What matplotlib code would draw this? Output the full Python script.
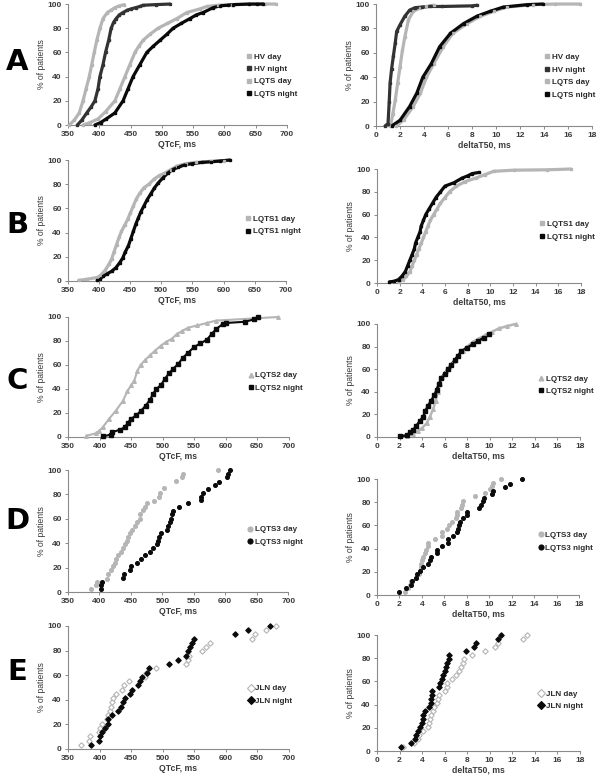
import matplotlib
matplotlib.use("Agg")
import matplotlib.pyplot as plt

plt.rcParams['font.family'] = ['Liberation Sans', 'DejaVu Sans']

LIGHT = "#b5b5b5"
DARK = "#333333"
BLACK = "#0a0a0a"

# ---------------- A : QTcF ----------------
a_hv_day_x = [352, 360, 368, 374, 379, 384, 388, 392, 396, 401, 406, 413, 419, 425, 432, 440]
a_hv_day_y = [0, 4, 10, 20, 30, 40, 50, 60, 70, 80, 88, 93, 95, 97, 98.5, 99.5]
a_hv_night_x = [365, 372, 380, 387, 393, 398, 401, 406, 410, 415, 419, 423, 427, 432, 438, 445, 451, 458, 465, 470, 490, 513]
a_hv_night_y = [0, 4, 10, 15, 20, 30, 40, 50, 60, 70, 80, 85, 88, 91, 93, 95, 96, 97, 98, 99, 99.5, 100]
a_lqts_day_x = [374, 385, 398, 410, 425, 433, 441, 449, 457, 463, 470, 481, 494, 509, 524, 540, 561, 572, 590, 612, 665, 682]
a_lqts_day_y = [0, 2, 5, 11, 20, 30, 40, 50, 60, 65, 70, 75, 80, 84, 88, 93, 96, 98, 99, 99.5, 100, 100]
a_lqts_night_x = [393, 402, 411, 425, 438, 446, 454, 465, 476, 486, 497, 508, 518, 531, 545, 555, 566, 582, 593, 605, 614, 640, 652, 662]
a_lqts_night_y = [0, 2, 5, 10, 20, 30, 40, 50, 60, 65, 70, 75, 80, 84, 88, 91, 93, 97, 98.5, 99, 99.5, 100, 100, 100]

# ---------------- A : deltaT50 ----------------
a2_hv_day_x = [1.2, 1.4, 1.6, 1.8, 2.0, 2.2, 2.4, 2.7, 3.1, 3.7, 4.2, 4.8]
a2_hv_day_y = [0, 10, 21, 35, 48.6, 62, 73, 87, 94, 97, 98, 99]
a2_hv_night_x = [0.75, 1.0, 1.1, 1.17, 1.3, 1.44, 1.6, 1.72, 2.0, 2.4, 2.8, 3.25, 3.8, 4.5, 5.5, 8.0, 8.4]
a2_hv_night_y = [0, 2, 20, 35, 47, 57, 68, 77.5, 83, 90, 95, 97, 97.5, 98, 98, 98.5, 99]
a2_lqts_day_x = [1.7, 2.3, 3.1, 3.7, 4.2, 4.8, 5.6, 6.4, 7.6, 8.7, 9.8, 10.9, 13.1, 14.9, 17.0]
a2_lqts_day_y = [0, 5, 16, 27, 40, 51, 65, 76, 84, 90, 94, 97.5, 99.5, 100, 100]
a2_lqts_night_x = [1.3, 2.0, 2.8, 3.4, 3.9, 4.6, 5.3, 6.2, 7.3, 8.4, 9.5, 10.6, 12.6, 13.9]
a2_lqts_night_y = [0, 4.7, 16, 27, 40, 51, 65, 76, 84, 90, 94, 97.5, 99.5, 100]

# ---------------- B : LQTS1 ----------------
b_day_x = [367, 381, 398, 403, 410, 416, 420, 424, 428, 432, 436, 441, 446, 450, 455, 460, 466, 472, 480, 488, 496, 505, 515, 525, 540, 555, 580, 600]
b_day_y = [0.5, 1.5, 3, 5, 9, 14, 18, 24, 30, 36, 41, 46, 51, 56, 62, 68, 73, 77, 80, 84, 87, 89, 92, 95, 97, 98, 99, 99.5]
b_night_x = [397, 402, 407, 413, 420, 427, 433, 438, 442, 447, 451, 455, 459, 463, 467, 472, 477, 483, 489, 495, 502, 510, 518, 527, 538, 550, 565, 580, 595, 610]
b_night_y = [0.5, 2, 4, 6, 8, 11, 15, 19, 24, 29, 35, 41, 47, 52, 57, 62, 67, 72, 77, 81, 85, 89, 92, 94, 96, 97, 98, 98.5, 99.2, 100]
b2_day_x = [1.9, 2.3, 2.6, 2.9, 3.1, 3.3, 3.5, 3.7, 3.9, 4.1, 4.3, 4.5, 4.7, 5.0, 5.3, 5.6, 6.0, 6.4, 7.0, 7.8, 8.7, 9.5, 10.3, 12.1, 15.0, 17.1]
b2_day_y = [1, 3, 6, 10, 15, 20, 25, 30, 35, 40, 45, 50, 55, 60, 65, 70, 75, 80, 85, 89, 92, 95, 98, 99, 99.3, 100]
b2_night_x = [1.1, 1.5, 1.9, 2.2, 2.5, 2.7, 2.9, 3.1, 3.3, 3.4, 3.6, 3.8, 3.9, 4.1, 4.3, 4.6, 4.9, 5.2, 5.6, 6.0, 6.8, 7.5, 8.0, 8.4, 9.0]
b2_night_y = [1, 1.5, 3, 6, 10, 15, 20, 25, 30, 35, 40, 45, 50, 55, 60, 65, 70, 75, 80, 85, 88, 92, 94, 96, 97]

# ---------------- C : LQTS2 ----------------
c_day_x = [379, 394, 399, 405, 415, 426, 437, 444, 450, 455, 460, 465, 472, 480, 488, 497, 505, 515, 523, 530, 540, 555, 570, 585, 683]
c_day_y = [1, 3, 5, 8, 15, 22, 30, 38, 43, 47, 55, 60, 64, 68, 72, 76, 79, 82, 86, 88, 91, 93, 95, 97, 100]
c_night_x = [406, 418, 420, 432, 440, 445, 450, 458, 466, 473, 480, 485, 490, 497, 503, 510, 517, 525, 532, 540, 550, 560, 570, 578, 585, 595, 600, 630, 645, 652]
c_night_y = [0.5, 2, 4, 6, 8, 12, 15, 18, 22, 26, 31, 36, 40, 43, 48, 53, 57, 61, 66, 70, 75, 78, 81, 86, 90, 94, 95, 96, 98, 100]
c2_day_x = [2.7, 3.2, 3.6, 4.0, 4.4, 4.7, 5.0, 5.2, 5.4, 5.6, 5.8, 6.1, 6.4, 6.8, 7.2, 7.6, 8.0, 8.5, 9.0, 9.6, 10.2, 10.8, 11.5, 12.3]
c2_day_y = [1, 3, 5, 8, 12, 18, 25, 32, 40, 47, 53, 58, 62, 67, 72, 76, 80, 84, 87, 90, 93, 96, 98, 100]
c2_night_x = [2.0, 2.7, 2.9, 3.2, 3.5, 3.8, 4.1, 4.3, 4.5, 4.8, 5.1, 5.3, 5.5, 5.7, 6.0, 6.3, 6.6, 6.9, 7.2, 7.5, 8.0, 8.5, 9.0, 9.5, 9.9]
c2_night_y = [0.5, 1.5, 4, 6, 10, 14, 18, 23, 27, 32, 37, 42, 47, 52, 56, 60, 64, 68, 72, 76, 79, 82, 85, 88, 91]

# ---------------- D : LQTS3 ----------------
d_day_x = [387, 394, 396, 412, 414, 418, 421, 424, 427, 430, 434, 437, 441, 444, 446, 449, 451, 456, 460, 464, 464, 470, 473, 475, 487, 494, 496, 503, 521, 531, 533, 588]
d_day_y = [2.7, 5.7, 8.5, 11, 15, 18, 21, 24, 27, 30, 33, 36, 39, 42, 45, 48, 51, 54, 57, 60, 64, 67, 70, 73, 75, 78, 81, 85, 91, 94, 97, 100]
d_night_x = [402, 403, 404, 437, 439, 448, 450, 460, 466, 473, 481, 485, 491, 493, 495, 498, 508, 509, 512, 513, 516, 517, 526, 540, 561, 562, 564, 573, 583, 590, 602, 604, 608]
d_night_y = [2.7, 6, 8.5, 11.5, 15, 18, 21, 24, 27, 30, 33, 36, 39, 42, 45, 48.6, 51, 54, 57.6, 60, 63.6, 66.7, 70, 72.7, 75.4, 78, 81, 84.7, 87.7, 90.4, 94, 96.7, 100]
d2_day_x = [2.5, 2.8, 2.9, 3.0, 3.5, 3.7, 3.8, 3.9, 3.9, 4.0, 4.1, 4.3, 4.4, 4.5, 4.5, 5.2, 5.8, 5.8, 6.2, 6.4, 6.7, 7.0, 7.1, 7.1, 7.5, 7.6, 7.7, 8.7, 9.6, 10.1, 10.2, 10.3, 11.0]
d2_day_y = [3, 6, 9, 12, 15, 18, 21, 24, 27, 30, 33, 36, 39, 42, 45, 48, 51, 54, 57, 60, 63, 66, 69, 72, 75, 78, 81, 85, 88, 91, 94, 97, 100]
d2_night_x = [2.0, 2.6, 3.0, 3.1, 3.5, 3.6, 3.8, 4.1, 4.5, 4.7, 4.8, 5.3, 5.3, 5.8, 6.3, 6.3, 6.8, 7.1, 7.2, 7.3, 7.4, 7.7, 8.0, 8.0, 9.1, 9.3, 9.4, 9.5, 10.2, 10.3, 11.4, 11.8, 12.9]
d2_night_y = [3, 6, 9, 12, 15, 18, 21, 24, 27, 30, 33, 36, 39, 42, 45, 48, 51, 54, 57, 60, 63, 66, 69, 72, 75, 78, 81, 84, 87, 90, 93, 96, 100]

# ---------------- E : JLN ----------------
e_pct = [3.4, 6.9, 10.3, 13.8, 17.2, 20.7, 24.1, 27.6, 31.0, 34.5, 37.9, 41.4, 44.8, 48.3, 51.7,
         55.2, 58.6, 62.1, 65.5, 69.0, 72.4, 75.9, 79.3, 82.8, 86.2, 89.7, 93.1, 96.6, 100]
e_day_x = [371, 384, 385, 399, 401, 404, 412, 414, 417, 418, 420, 421, 426, 436, 439, 446, 472, 474, 490, 537, 540, 542, 563, 569, 575, 641, 647, 664, 679]
e_night_x = [386, 399, 401, 404, 409, 413, 414, 420, 430, 434, 437, 441, 449, 452, 461, 464, 468, 476, 479, 510, 525, 537, 540, 544, 546, 549, 614, 636, 671]
e2_day_x = [2.3, 3.3, 3.6, 3.7, 4.1, 4.5, 4.6, 4.7, 4.8, 5.0, 5.1, 5.3, 5.4, 5.5, 6.0, 6.2, 6.2, 6.7, 7.0, 7.3, 7.5, 7.6, 7.7, 8.4, 9.6, 10.5, 10.7, 13.0, 13.3]
e2_night_x = [2.1, 3.0, 3.4, 3.5, 3.6, 3.8, 4.0, 4.1, 4.1, 4.3, 4.6, 4.8, 4.8, 4.9, 4.9, 5.5, 5.6, 5.8, 5.9, 6.0, 6.1, 6.2, 6.4, 6.4, 7.9, 8.6, 8.8, 10.7, 11.0]

fig = plt.figure(figsize=(6, 7.76), dpi=100)


def pannello(rect, xlim, xticks, xlabel):
    ax = fig.add_axes(rect)
    ax.set_xlim(*xlim)
    ax.set_ylim(0, 100)
    ax.set_xticks(xticks)
    ax.set_yticks(range(0, 101, 20))
    for s in ["top", "right"]:
        ax.spines[s].set_visible(False)
    for s in ["left", "bottom"]:
        ax.spines[s].set_color("#8a8a8a")
        ax.spines[s].set_linewidth(0.8)
    ax.tick_params(length=2.5, width=0.7, color="#8a8a8a", labelsize=6, labelcolor="#3a3a3a", pad=2)
    for lab in ax.get_xticklabels() + ax.get_yticklabels():
        lab.set_fontweight("bold")
    ax.set_xlabel(xlabel, fontsize=6.2, fontweight="bold", color="#3a3a3a", labelpad=1)
    ax.set_ylabel("% of patients", fontsize=6.2, color="#3a3a3a", labelpad=1)
    return ax


def curva(ax, x, y, col, lab, lw=2.3, ms=1.8, mk="s"):
    # curve fitte: linea spessa + piccoli punti
    ax.plot(x, y, "-", color=col, lw=lw, solid_capstyle="round", clip_on=False, zorder=2)
    ax.plot(x, y, linestyle="none", marker=mk, color=col, ms=ms, clip_on=False, label=lab, zorder=3)


def punti(ax, x, y, col, lab, mk="D", mfc=None, ms=3.0):
    ax.plot(x, y, linestyle="none", marker=mk, color=col, ms=ms, mec=col,
            mfc=col if mfc is None else mfc, mew=0.8, clip_on=False, label=lab, zorder=3)


def legenda(ax, x0, y0):
    ax.legend(loc="center left", bbox_to_anchor=(x0, y0), frameon=False,
              handlelength=0.5, handletextpad=0.3, labelspacing=0.6, borderpad=0,
              markerscale=1.3, labelcolor="#2a2a2a", prop={"weight": "bold", "size": 5.8})


qt_ticks = list(range(350, 701, 50))
dt_ticks = list(range(0, 19, 2))

# A
ax = pannello([0.1133, 0.8389, 0.365, 0.1559], (350, 700), qt_ticks, "QTcF, ms")
curva(ax, a_hv_day_x, a_hv_day_y, LIGHT, "HV day")
curva(ax, a_hv_night_x, a_hv_night_y, DARK, "HV night")
curva(ax, a_lqts_day_x, a_lqts_day_y, LIGHT, "LQTS day")
curva(ax, a_lqts_night_x, a_lqts_night_y, BLACK, "LQTS night")
legenda(ax, 0.80, 0.41)

ax = pannello([0.6267, 0.8376, 0.36, 0.1572], (0, 18), dt_ticks, "deltaT50, ms")
curva(ax, a2_hv_day_x, a2_hv_day_y, LIGHT, "HV day")
curva(ax, a2_hv_night_x, a2_hv_night_y, DARK, "HV night")
curva(ax, a2_lqts_day_x, a2_lqts_day_y, LIGHT, "LQTS day")
curva(ax, a2_lqts_night_x, a2_lqts_night_y, BLACK, "LQTS night")
legenda(ax, 0.765, 0.41)

# B
ax = pannello([0.1133, 0.6379, 0.363, 0.1559], (350, 700), qt_ticks, "QTcF, ms")
curva(ax, b_day_x, b_day_y, LIGHT, "LQTS1 day")
curva(ax, b_night_x, b_night_y, BLACK, "LQTS1 night")
legenda(ax, 0.80, 0.46)

ax = pannello([0.6283, 0.6353, 0.34, 0.1469], (0, 18), dt_ticks, "deltaT50, ms")
curva(ax, b2_day_x, b2_day_y, LIGHT, "LQTS1 day")
curva(ax, b2_night_x, b2_night_y, BLACK, "LQTS1 night")
legenda(ax, 0.78, 0.46)

# C
ax = pannello([0.1133, 0.4369, 0.368, 0.1546], (350, 700), qt_ticks, "QTcF, ms")
curva(ax, c_day_x, c_day_y, LIGHT, "LQTS2 day", lw=1.5, mk="^", ms=2.6)
curva(ax, c_night_x, c_night_y, BLACK, "LQTS2 night", lw=1.5, ms=2.2)
legenda(ax, 0.80, 0.46)

ax = pannello([0.6283, 0.4369, 0.338, 0.1456], (0, 18), dt_ticks, "deltaT50, ms")
curva(ax, c2_day_x, c2_day_y, LIGHT, "LQTS2 day", lw=1.8, mk="^", ms=2.6)
curva(ax, c2_night_x, c2_night_y, BLACK, "LQTS2 night", lw=1.8, ms=2.2)
legenda(ax, 0.78, 0.46)

# D
ax = pannello([0.1133, 0.2371, 0.367, 0.1572], (350, 700), qt_ticks, "QTcF, ms")
punti(ax, d_day_x, d_day_y, LIGHT, "LQTS3 day", mk="o", ms=2.8)
punti(ax, d_night_x, d_night_y, BLACK, "LQTS3 night", mk="o", ms=2.8)
legenda(ax, 0.80, 0.46)

ax = pannello([0.6283, 0.2332, 0.337, 0.1495], (0, 18), dt_ticks, "deltaT50, ms")
punti(ax, d2_day_x, d2_day_y, LIGHT, "LQTS3 day", mk="o", ms=2.8)
punti(ax, d2_night_x, d2_night_y, BLACK, "LQTS3 night", mk="o", ms=2.8)
legenda(ax, 0.78, 0.46)

# E
ax = pannello([0.1133, 0.0348, 0.368, 0.1585], (350, 700), qt_ticks, "QTcF, ms")
punti(ax, e_day_x, e_pct, LIGHT, "JLN day", mk="D", mfc="white", ms=2.8)
punti(ax, e_night_x, e_pct, BLACK, "JLN night", mk="D", ms=2.8)
legenda(ax, 0.80, 0.44)

ax = pannello([0.6283, 0.0322, 0.338, 0.1495], (0, 18), dt_ticks, "deltaT50, ms")
punti(ax, e2_day_x, e_pct, LIGHT, "JLN day", mk="D", mfc="white", ms=2.8)
punti(ax, e2_night_x, e_pct, BLACK, "JLN night", mk="D", ms=2.8)
legenda(ax, 0.78, 0.44)

# lettere dei pannelli
for lettera, yy in zip("ABCDE", [62, 225, 381, 521, 672]):
    fig.text(17 / 600, 1 - yy / 776, lettera, fontsize=21, fontweight="bold",
             ha="center", va="center", family="DejaVu Sans")

fig.savefig("out.png", dpi=100)
